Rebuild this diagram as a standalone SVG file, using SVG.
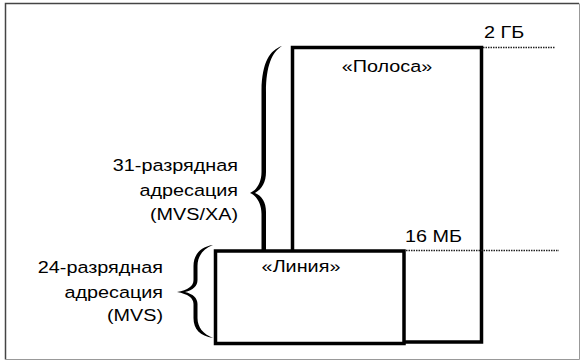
<svg xmlns="http://www.w3.org/2000/svg" width="582" height="362" viewBox="0 0 582 362">
<style>
.box{fill:#fff;stroke:#000;stroke-width:3.5}
.t{font-family:"Liberation Sans",Arial,sans-serif;font-size:16.5px;fill:#000}
.dot{stroke:#222;stroke-width:1.5;stroke-dasharray:1.5 1;fill:none}
.brace{fill:#000}
</style>
<rect x="0" y="0" width="582" height="362" fill="#fff"/>
<g id="frame">
<path d="M5.5,359.5 V3.5 H579" fill="none" stroke="#444" stroke-width="1.5"/>
<path d="M579.5,3.5 V359.5 H5.5" fill="none" stroke="#999" stroke-width="1"/>
</g>
<g id="polosa">
<rect class="box" x="292.5" y="47.5" width="189" height="294.5"/>
<text class="t" text-anchor="middle" transform="translate(387,72) scale(1.2,1)">«Полоса»</text>
</g>
<g id="liniya">
<rect class="box" x="215.5" y="251" width="188.5" height="92.5"/>
<text class="t" text-anchor="middle" transform="translate(301,272) scale(1.2,1)">«Линия»</text>
</g>
<g id="connectors">
<line class="dot" x1="483" y1="47.5" x2="555" y2="47.5"/>
<line class="dot" x1="406" y1="250.5" x2="559" y2="250.5"/>
<path class="brace" d="M282,46 C270,50 262,62 261.5,90 L261.5,172 C261.5,182 257,190 250,193 C257,196 261.5,204 261.5,214 L261.5,251 L266,251 L266,212 C266,202 262,196 255,193 C262,189 266,182 266,172 L266,92 C266,66 272,52 282,46 Z"/>
<path class="brace" d="M213,245 C200,247 193.5,255 193.5,266 L193.5,280 C193.5,286 188,290 177,292 C188,294 193.5,298 193.5,304 L193.5,318 C193.5,329 200,336 213,338 C203,334 197.5,327 197.5,318 L197.5,304 C197.5,298 193,294 185,292 C193,290 197.5,286 197.5,280 L197.5,266 C197.5,256 203,249 213,245 Z"/>
</g>
<g id="label-2gb">
<text class="t" transform="translate(484,38) scale(1.2,1)">2 ГБ</text>
</g>
<g id="label-16mb">
<text class="t" transform="translate(405,242) scale(1.2,1)">16 МБ</text>
</g>
<g id="label-31">
<text class="t" text-anchor="end" transform="translate(238,171) scale(1.2,1)">31-разрядная</text>
<text class="t" text-anchor="end" transform="translate(238,196) scale(1.2,1)">адресация</text>
<text class="t" text-anchor="end" transform="translate(238,220) scale(1.2,1)">(MVS/XA)</text>
</g>
<g id="label-24">
<text class="t" text-anchor="end" transform="translate(163,273) scale(1.2,1)">24-разрядная</text>
<text class="t" text-anchor="end" transform="translate(163,298) scale(1.2,1)">адресация</text>
<text class="t" text-anchor="end" transform="translate(163,321) scale(1.2,1)">(MVS)</text>
</g>
</svg>
